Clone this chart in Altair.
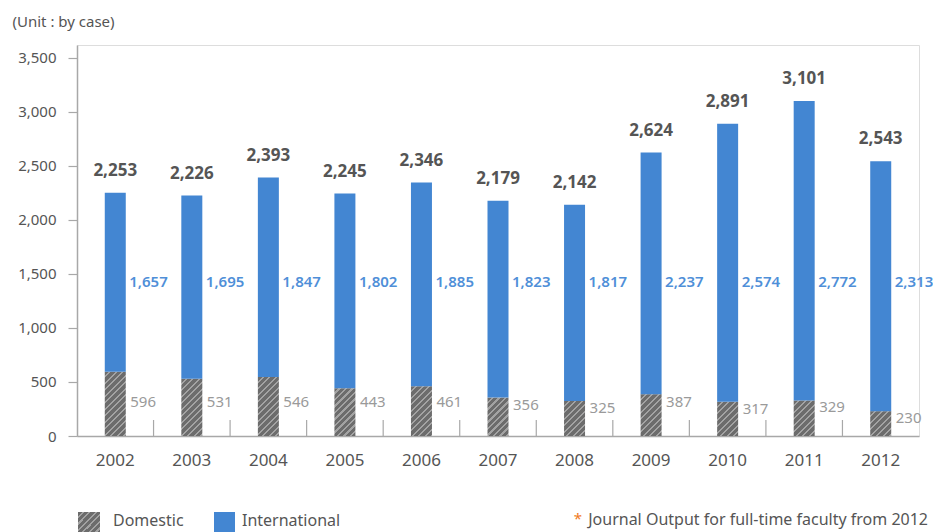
import altair as alt
import pandas as pd

# Journal output by year (cases)
years = ["2002", "2003", "2004", "2005", "2006", "2007", "2008", "2009", "2010", "2011", "2012"]
domestic = [596, 531, 546, 443, 461, 356, 325, 387, 317, 329, 230]
international = [1657, 1695, 1847, 1802, 1885, 1823, 1817, 2237, 2574, 2772, 2313]

series_names = ["Domestic", "International"]
y_ticks = list(range(0, 3501, 250))

BLUE = "#4386d2"
INTL_TEXT = "#4f8fd8"
HATCH_DARK = "#6c6c6c"
HATCH_LIGHT = "#a3a3a3"
TEXT = "#555555"
AXIS = "#a8a8a8"
FONT = "Noto Sans"

W, H = 842, 391
Y_MAX = 3620
BAR_W = 21

df = pd.DataFrame({"year": years, "domestic": domestic, "international": international})

x_enc = alt.X("year:O", scale=alt.Scale(paddingInner=0, paddingOuter=0),
              axis=alt.Axis(title=None, labelAngle=0, ticks=False, labelPadding=16,
                            labelFontSize=17, labelColor=TEXT, labelFont=FONT,
                            domainColor=AXIS, domainWidth=1.5))
y_scale = alt.Scale(domain=[0, Y_MAX], nice=False)

base = alt.Chart(df).transform_calculate(total="datum.domestic + datum.international")


def hatch(w, h, period=6.5, light_frac=0.32):
    """Diagonal /// stripes as a hard-stop linear gradient sized to a w x h box."""
    k = (w + h) / (w * w + h * h)
    n = (w + h) / period
    stops = []
    i = 0
    while i / n < 1:
        a = i / n
        b = min((i + 1 - light_frac) / n, 1)
        c = min((i + 1) / n, 1)
        stops += [alt.GradientStop(offset=a, color=HATCH_DARK),
                  alt.GradientStop(offset=b, color=HATCH_DARK),
                  alt.GradientStop(offset=b, color=HATCH_LIGHT),
                  alt.GradientStop(offset=c, color=HATCH_LIGHT)]
        i += 1
    return alt.Gradient(gradient="linear", x1=0, y1=0, x2=k * w, y2=k * h, stops=stops)


# Domestic segments: one layer per year so each gets its own stripe geometry
dom_layers = []
for yr, val in zip(years, domestic):
    h_px = val * H / Y_MAX
    dom_layers.append(
        base.transform_filter(alt.datum.year == yr)
        .mark_bar(size=BAR_W, fill=hatch(BAR_W, h_px), stroke=None)
        .encode(x=x_enc,
                y=alt.Y("domestic:Q", scale=y_scale,
                        axis=alt.Axis(title="(Unit : by case)", values=y_ticks,
                                      labelExpr="datum.value % 500 == 0 ? format(datum.value, ',') : ''",
                                      grid=False, tickSize=9, tickColor=AXIS, domainColor=AXIS,
                                      domainWidth=1.5, tickWidth=1.2, labelPadding=12,
                                      labelFontSize=15, labelColor=TEXT, labelFont=FONT,
                                      titleAngle=0, titleAlign="left", titleBaseline="alphabetic",
                                      titleX=-65, titleY=-19, titleFontSize=15, titleFontWeight="normal",
                                      titleColor=TEXT, titleFont=FONT)),
                y2=alt.datum(0))
    )

intl = base.mark_bar(size=BAR_W, color=BLUE).encode(
    x=x_enc, y=alt.Y("total:Q", scale=y_scale), y2="domestic:Q")

# Small upward ticks at the boundaries between years
boundary_ticks = base.transform_filter(alt.datum.year != years[-1]).mark_rule(
    color=AXIS, strokeWidth=1.2).encode(
    x=alt.X("year:O", bandPosition=1), y=alt.value(H - 16), y2=alt.value(H))

total_labels = base.mark_text(fontSize=17, fontWeight="bold", color=TEXT, font=FONT,
                              baseline="alphabetic", dy=-17).encode(
    x="year:O", y=alt.Y("total:Q", scale=y_scale), text=alt.Text("total:Q", format=","))

intl_labels = base.mark_text(fontSize=15, fontWeight=600, color=INTL_TEXT, font=FONT,
                             align="left", baseline="middle", dx=14).encode(
    x="year:O", y=alt.datum(1425), text=alt.Text("international:Q", format=","))

dom_labels = base.transform_calculate(ly="min(datum.domestic, 380)").mark_text(
    fontSize=15, color="#9a9a9a", font=FONT, align="left", baseline="top", dx=15).encode(
    x="year:O", y=alt.Y("ly:Q", scale=y_scale), text=alt.Text("domestic:Q", format=","))

# Legend below the plot
legend_y0, legend_y1 = H + 76, H + 100
leg_dom_sw = alt.Chart(pd.DataFrame({"s": [series_names[0]]})).mark_rect(
    fill=hatch(22, 24)).encode(x=alt.value(1), x2=alt.value(23), y=alt.value(legend_y0), y2=alt.value(legend_y1))
leg_int_sw = alt.Chart(pd.DataFrame({"s": [series_names[1]]})).mark_rect(
    fill=BLUE).encode(x=alt.value(137), x2=alt.value(158), y=alt.value(legend_y0), y2=alt.value(legend_y1))
leg_dom_tx = alt.Chart(pd.DataFrame({"s": [series_names[0]]})).mark_text(
    fontSize=16, color=TEXT, font=FONT, align="left", baseline="middle").encode(
    x=alt.value(36), y=alt.value(H + 85), text="s:N")
leg_int_tx = alt.Chart(pd.DataFrame({"s": [series_names[1]]})).mark_text(
    fontSize=16, color=TEXT, font=FONT, align="left", baseline="middle").encode(
    x=alt.value(165), y=alt.value(H + 85), text="s:N")

note_star = alt.Chart(pd.DataFrame({"t": ["*"]})).mark_text(
    fontSize=15, color="#f07a1e", font=FONT, align="right", baseline="middle").encode(
    x=alt.value(505), y=alt.value(H + 83), text="t:N")
note = alt.Chart(pd.DataFrame({"t": ["Journal Output for full-time faculty from 2012"]})).mark_text(
    fontSize=16, color=TEXT, font=FONT, align="right", baseline="middle").encode(
    x=alt.value(851), y=alt.value(H + 84), text="t:N")

chart = alt.layer(
    *dom_layers, intl, boundary_ticks, total_labels, intl_labels, dom_labels,
    leg_dom_sw, leg_int_sw, leg_dom_tx, leg_int_tx, note_star, note
).properties(
    width=W, height=H,
    autosize=alt.AutoSizeParams(type="none"),
    padding={"left": 77, "top": 45, "right": 14, "bottom": 96},
).configure_view(stroke=None).configure(background="white")

chart.save("out.html", embed_options={"renderer": "svg", "actions": False})
